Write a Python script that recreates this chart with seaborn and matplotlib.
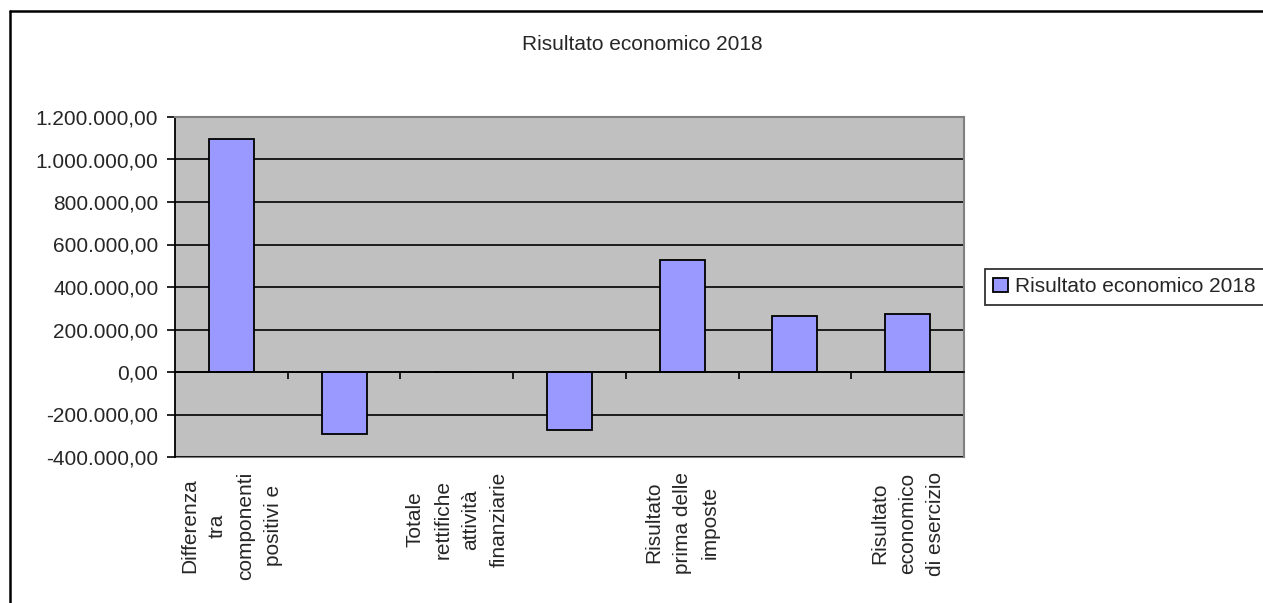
import matplotlib
matplotlib.use("Agg")
import matplotlib.pyplot as plt
from matplotlib.lines import Line2D
from matplotlib.ticker import FuncFormatter
import seaborn as sns

# data
categories = [
    "Differenza tra componenti positivi e negativi",
    "Proventi e oneri finanziari",
    "Totale rettifiche attività finanziarie",
    "Proventi e oneri straordinari",
    "Risultato prima delle imposte",
    "Imposte",
    "Risultato economico di esercizio",
]
values = [1098000, -294000, 0, -275000, 529000, 265000, 275000]
tick_labels = [
    "Differenza\ntra\ncomponenti\npositivi e",
    "",
    "Totale\nrettifiche\nattività\nfinanziarie",
    "",
    "Risultato\nprima delle\nimposte",
    "",
    "Risultato\neconomico\ndi esercizio",
]
y_ticks = [-400000, -200000, 0, 200000, 400000, 600000, 800000, 1000000, 1200000]
series_name = "Risultato economico 2018"

sns.set_style("white")
plt.rcParams["font.family"] = ["Liberation Sans", "DejaVu Sans"]

W, H = 1263, 603
fig = plt.figure(figsize=(W / 100, H / 100), dpi=100)
ax = fig.add_axes([175 / W, 1 - 457 / H, (964 - 175) / W, (457 - 117) / H])

sns.barplot(x=categories, y=values, color="#9999FF", saturation=1,
            edgecolor="black", linewidth=1.3, width=0.4, ax=ax,
            label=series_name)

ax.set_facecolor("#C0C0C0")
ax.set_xlim(-0.5, 6.5)
ax.set_ylim(-400000, 1200000)
ax.set_yticks(y_ticks)
ax.yaxis.set_major_formatter(FuncFormatter(
    lambda v, p: f"{v:,.2f}".replace(",", "X").replace(".", ",").replace("X", ".")))
ax.grid(axis="y", color="black", linewidth=1.2)
ax.set_axisbelow(True)
ax.tick_params(axis="y", direction="out", length=6, width=1.2, color="black",
               labelsize=15, pad=6, left=True)
ax.set_xlabel("")
ax.set_ylabel("")

# category axis crosses at zero, ticks at category boundaries
ax.spines["bottom"].set_position(("data", 0))
ax.spines["bottom"].set_color("black")
ax.spines["bottom"].set_linewidth(1.2)
ax.set_xticks([i + 0.5 for i in range(len(categories))])
ax.set_xticklabels([])
ax.tick_params(axis="x", direction="out", length=5, width=1.2, color="black", bottom=True)
ax.spines["left"].set_color("black")
ax.spines["left"].set_linewidth(1.3)
for s in ["top", "right"]:
    ax.spines[s].set_color("#808080")
    ax.spines[s].set_linewidth(1.5)

# category labels below the plot area
sec = ax.secondary_xaxis("bottom")
sec.set_xticks(range(len(categories)))
sec.set_xticklabels(tick_labels, rotation=90, va="top", ha="center",
                    multialignment="center", linespacing=1.6, fontsize=15)
sec.tick_params(length=0, pad=10.5)
sec.spines["bottom"].set_color("#808080")
sec.spines["bottom"].set_linewidth(1.5)

fig.text(642 / W, 1 - 50 / H, series_name, ha="center", va="baseline", fontsize=15)

leg = ax.legend(loc="center left", bbox_to_anchor=(985 / W, 1 - 287 / H),
                bbox_transform=fig.transFigure, frameon=True, fancybox=False,
                fontsize=15, handlelength=0.7, handleheight=0.7, handletextpad=0.33,
                borderpad=0.4, borderaxespad=0)
leg.get_frame().set_edgecolor("black")
leg.get_frame().set_linewidth(1.3)

# chart border
fig.add_artist(Line2D([10 / W, 10 / W], [1 - 11 / H, 0], color="black", linewidth=1.8,
                      transform=fig.transFigure))
fig.add_artist(Line2D([10 / W, 1], [1 - 11 / H, 1 - 11 / H], color="black", linewidth=1.8,
                      transform=fig.transFigure))

fig.savefig("out.png", dpi=100, facecolor="white")
